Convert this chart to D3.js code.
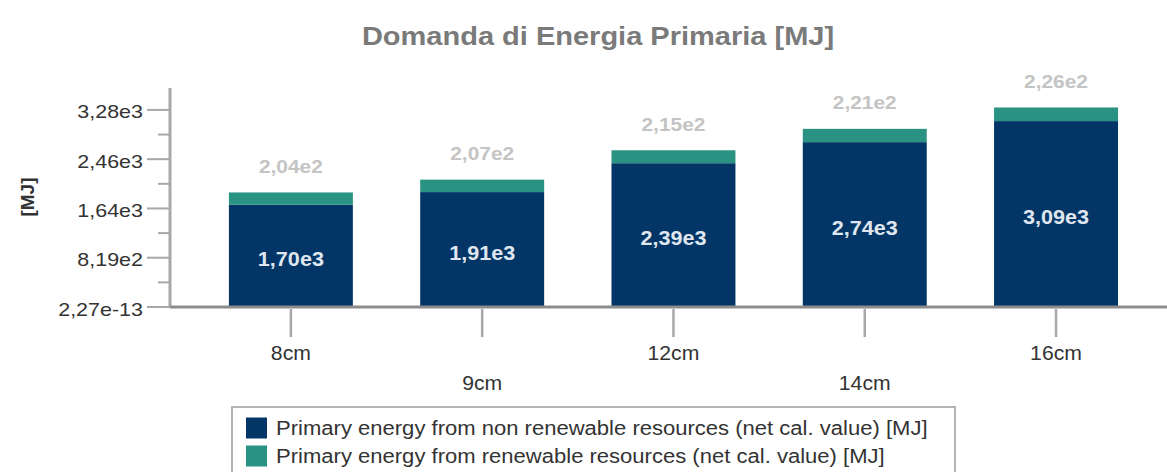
<!DOCTYPE html>
<html lang="it">
  <head>
    <meta charset="UTF-8" />
    <title>Domanda di Energia Primaria [MJ]</title>
    <style>
      body {
        margin: 0;
        overflow: hidden;
        background: #fff;
      }
      svg {
        display: block;
        font-family: "Liberation Sans", Arial, sans-serif;
      }
    </style>
  </head>
  <body>
    <svg></svg>

    <script src="https://d3js.org/d3.v7.min.js"></script>
    <script>
      // dati
      const categories = ["8cm", "9cm", "12cm", "14cm", "16cm"];
      const nonRenewable = [1700, 1910, 2390, 2740, 3090];
      const renewable = [204, 207, 215, 221, 226];
      const seriesNames = [
        "Primary energy from non renewable resources (net cal. value) [MJ]",
        "Primary energy from renewable resources (net cal. value) [MJ]",
      ];
      const seriesColors = ["#033566", "#2a9282"];
      const yTicks = [0, 819, 1638, 2457, 3276];
      const yTickLabels = ["2,27e-13", "8,19e2", "1,64e3", "2,46e3", "3,28e3"];

      const width = 1167;
      const height = 472;

      const svg = d3.select("svg").attr("width", width).attr("height", height);

      const axisX = 170;
      const baseY = 307;
      const topY = 88;

      // il testo dell'originale e' un po' piu' largo: lo allarghiamo
      function widen(sel, k) {
        sel.each(function () {
          const w = this.getComputedTextLength();
          d3.select(this)
            .attr("textLength", w * k)
            .attr("lengthAdjust", "spacingAndGlyphs");
        });
      }

      const rows = categories.map((c, i) => ({
        cat: c,
        nr: nonRenewable[i],
        r: renewable[i],
      }));
      const stacked = d3.stack().keys(["nr", "r"])(rows);

      const x = d3
        .scaleBand()
        .domain(categories)
        .range([axisX, width])
        .paddingInner(0.352)
        .paddingOuter(0.282)
        .align(0.546);

      const y = d3.scaleLinear().domain([0, 3640]).range([baseY, topY]);

      const fmt = (v) =>
        d3.format(".2e")(v).replace(".", ",").replace("e+", "e");

      // titolo
      svg
        .append("text")
        .attr("x", 598)
        .attr("y", 45)
        .attr("text-anchor", "middle")
        .attr("font-size", 25)
        .attr("font-weight", "bold")
        .attr("fill", "#7a7a7a")
        .text("Domanda di Energia Primaria [MJ]")
        .call(widen, 1.16);

      // etichetta asse y
      svg
        .append("text")
        .attr("transform", `translate(27,197) rotate(-90)`)
        .attr("text-anchor", "middle")
        .attr("dominant-baseline", "central")
        .attr("font-size", 19)
        .attr("font-weight", "bold")
        .attr("fill", "#333")
        .text("[MJ]");

      // barre impilate
      svg
        .append("g")
        .selectAll("g")
        .data(stacked)
        .join("g")
        .attr("fill", (d, i) => seriesColors[i])
        .selectAll("rect")
        .data((d) => d)
        .join("rect")
        .attr("x", (d) => x(d.data.cat))
        .attr("width", x.bandwidth())
        .attr("y", (d) => y(d[1]))
        .attr("height", (d) => y(d[0]) - y(d[1]));

      // asse y con tacche principali e secondarie
      const yAxis = svg.append("g").attr("stroke", "#a8a8a8");
      yAxis
        .append("line")
        .attr("x1", axisX)
        .attr("x2", axisX)
        .attr("y1", topY)
        .attr("y2", baseY)
        .attr("stroke-width", 3);

      const minor = d3.pairs(yTicks).map(([a, b]) => (a + b) / 2);
      yAxis
        .selectAll(".minor")
        .data(minor)
        .join("line")
        .attr("class", "minor")
        .attr("x1", axisX - 12)
        .attr("x2", axisX)
        .attr("y1", (d) => y(d))
        .attr("y2", (d) => y(d))
        .attr("stroke-width", 2);

      yAxis
        .selectAll(".major")
        .data(yTicks)
        .join("line")
        .attr("class", "major")
        .attr("x1", axisX - 23)
        .attr("x2", axisX)
        .attr("y1", (d) => y(d))
        .attr("y2", (d) => y(d))
        .attr("stroke-width", 2);

      svg
        .append("g")
        .selectAll("text")
        .data(yTicks)
        .join("text")
        .attr("x", axisX - 27)
        .attr("y", (d) => y(d) + 2)
        .attr("text-anchor", "end")
        .attr("dominant-baseline", "central")
        .attr("font-size", 19)
        .attr("fill", "#333")
        .text((d, i) => yTickLabels[i])
        .call(widen, 1.13);

      // asse x
      const xAxis = svg.append("g");
      xAxis
        .append("line")
        .attr("x1", axisX)
        .attr("x2", width)
        .attr("y1", baseY)
        .attr("y2", baseY)
        .attr("stroke", "#8c8c8c")
        .attr("stroke-width", 3);

      xAxis
        .selectAll(".tick")
        .data(categories)
        .join("line")
        .attr("class", "tick")
        .attr("x1", (d) => x(d) + x.bandwidth() / 2)
        .attr("x2", (d) => x(d) + x.bandwidth() / 2)
        .attr("y1", baseY + 2)
        .attr("y2", 337)
        .attr("stroke", "#a8a8a8")
        .attr("stroke-width", 2.5);

      xAxis
        .selectAll("text")
        .data(categories)
        .join("text")
        .attr("x", (d) => x(d) + x.bandwidth() / 2)
        .attr("y", (d, i) => (i % 2 ? 383 : 353))
        .attr("text-anchor", "middle")
        .attr("dominant-baseline", "central")
        .attr("font-size", 20)
        .attr("fill", "#333")
        .text((d) => d)
        .call(widen, 1.06);

      // etichette dei valori
      svg
        .append("g")
        .selectAll("text")
        .data(stacked[0])
        .join("text")
        .attr("x", (d) => x(d.data.cat) + x.bandwidth() / 2)
        .attr("y", (d) => (y(d[0]) + y(d[1])) / 2 + 3)
        .attr("text-anchor", "middle")
        .attr("dominant-baseline", "central")
        .attr("font-size", 20)
        .attr("font-weight", "bold")
        .attr("fill", "#dfe6ef")
        .text((d) => fmt(d.data.nr))
        .call(widen, 1.08);

      svg
        .append("g")
        .selectAll("text")
        .data(stacked[1])
        .join("text")
        .attr("x", (d) => x(d.data.cat) + x.bandwidth() / 2)
        .attr("y", (d) => y(d[1]) - 26)
        .attr("text-anchor", "middle")
        .attr("dominant-baseline", "central")
        .attr("font-size", 19)
        .attr("font-weight", "bold")
        .attr("fill", "#c4c4c4")
        .text((d) => fmt(d.data.r))
        .call(widen, 1.1);

      // legenda
      const legend = svg.append("g");
      legend
        .append("rect")
        .attr("x", 232)
        .attr("y", 407)
        .attr("width", 723)
        .attr("height", 80)
        .attr("fill", "#fff")
        .attr("stroke", "#b4b4b4")
        .attr("stroke-width", 2);

      const item = legend
        .selectAll("g")
        .data(seriesNames)
        .join("g")
        .attr("transform", (d, i) => `translate(0,${428 + i * 28})`);

      item
        .append("rect")
        .attr("x", 246)
        .attr("y", -10.5)
        .attr("width", 21)
        .attr("height", 21)
        .attr("fill", (d, i) => seriesColors[i]);

      item
        .append("text")
        .attr("x", 276)
        .attr("y", 0)
        .attr("dominant-baseline", "central")
        .attr("font-size", 19.5)
        .attr("fill", "#333")
        .text((d) => d)
        .call(widen, 1.13);
    </script>
  </body>
</html>
